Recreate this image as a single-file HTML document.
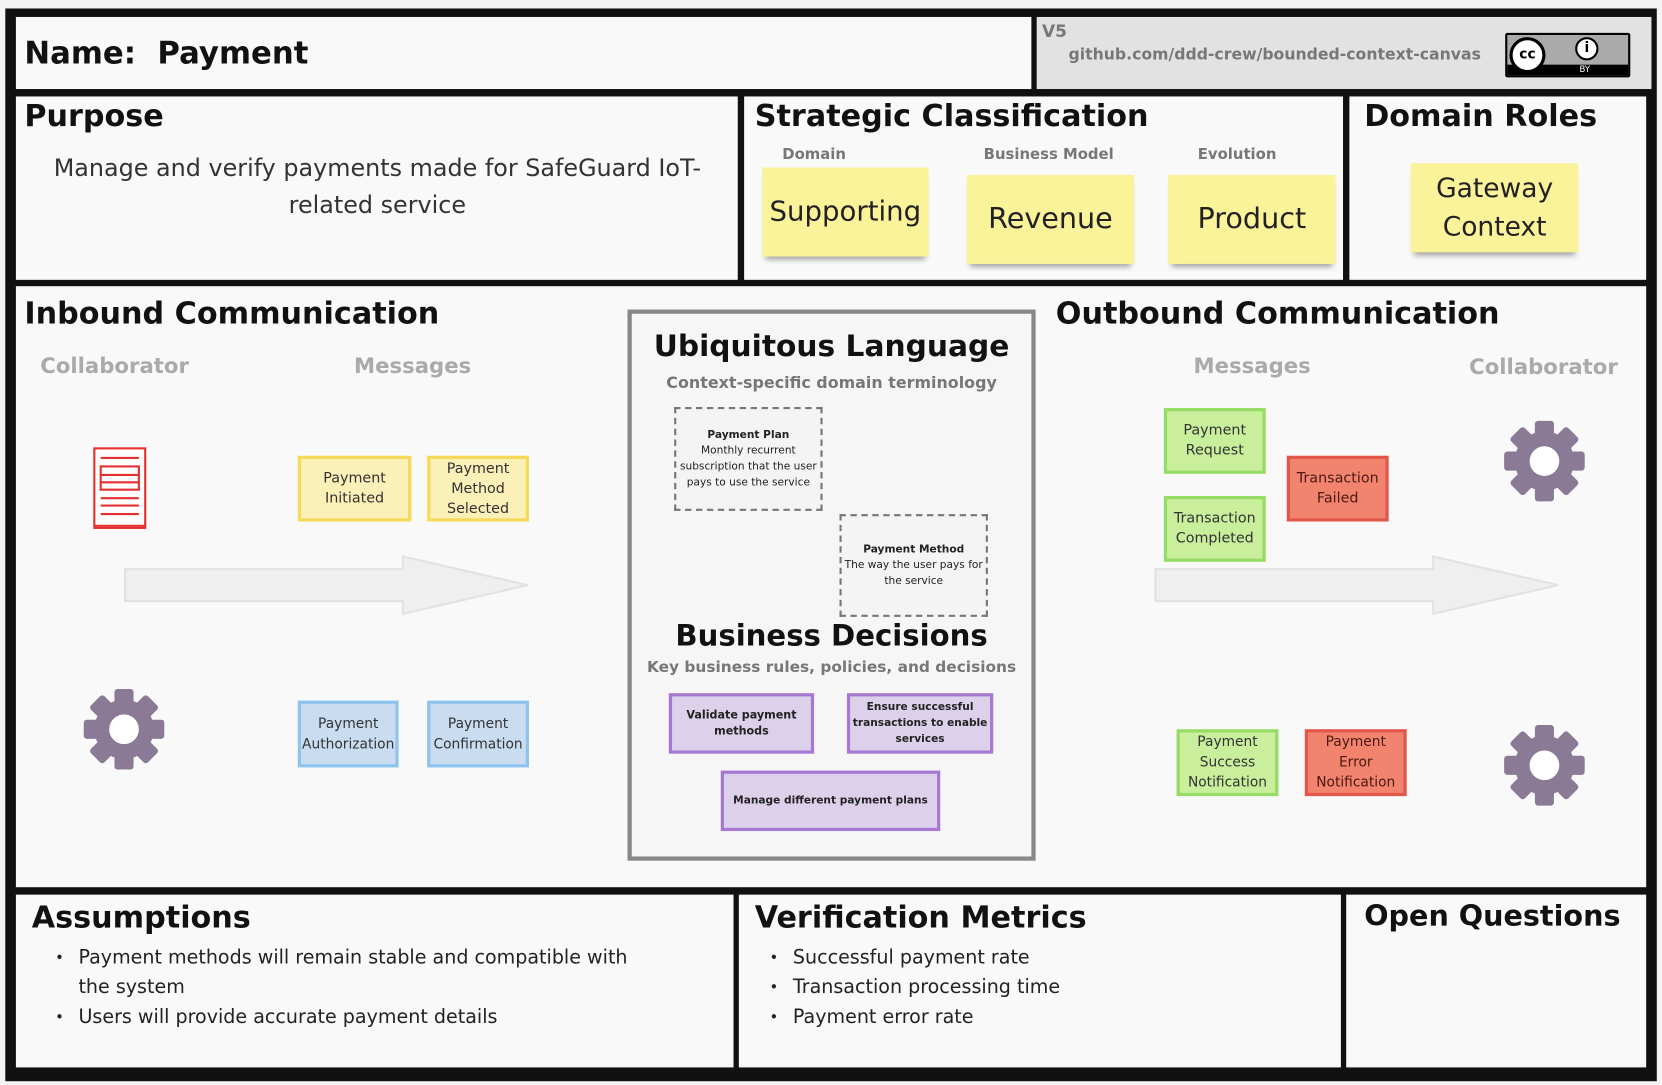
<!DOCTYPE html>
<html><head><meta charset="utf-8"><style>
*{margin:0;padding:0;box-sizing:border-box}
html,body{width:1662px;height:1085px;overflow:hidden;background:#f4f4f4;font-family:"DejaVu Sans","Liberation Sans",sans-serif}
#w{position:absolute;left:0;top:0;width:1568px;height:1024px;transform:scale(1.06);transform-origin:0 0}
.a{position:absolute}
.c{position:absolute;background:#f9f9f9}
.h{position:absolute;font-weight:bold;font-size:28.5px;color:#111;white-space:nowrap}
.sub{position:absolute;font-size:20px;color:#aaa;font-weight:bold}
.st{position:absolute;background:#fbf39a;box-shadow:0 6px 5px -3px rgba(0,0,0,.35);display:flex;align-items:center;justify-content:center;text-align:center;font-size:27px;color:#222;line-height:36px}
.m{position:absolute;display:flex;align-items:center;justify-content:center;text-align:center;font-size:13.5px;line-height:19px;color:#333;border:3px solid}
.y{background:#fbf0b8;border-color:#f7d95a}
.b{background:#c9dcf0;border-color:#8ec3ef}
.g{background:#c9ef9c;border-color:#96db63}
.r{background:#f2846f;border-color:#e2574a;color:#4a1a10}
.p{background:#dcd0ea;border-color:#a678d2;font-weight:bold;font-size:10.5px;line-height:15px;color:#222}
.d{position:absolute;border:2px dashed #777;background:#f4f4f4;font-size:10px;line-height:15px;text-align:center;color:#222;display:flex;flex-direction:column;justify-content:center}
ul{list-style:none}
li{position:relative;padding-left:42px;font-size:18px;line-height:28px;color:#222}
li:before{content:"•";position:absolute;left:20px;font-size:14px}
</style></head><body><div id="w">
<div class="a" style="left:5px;top:8px;width:1558px;height:1012px;background:#111"></div>
<div class="c" style="left:15px;top:16px;width:958px;height:68px"></div>
<div class="c" style="left:978px;top:16px;width:580px;height:68px;background:#e2e2e2"></div>
<div class="c" style="left:15px;top:91px;width:681px;height:173px"></div>
<div class="c" style="left:702px;top:91px;width:565px;height:173px"></div>
<div class="c" style="left:1273px;top:91px;width:280px;height:173px"></div>
<div class="c" style="left:15px;top:270px;width:1538px;height:567px"></div>
<div class="c" style="left:15px;top:844px;width:677px;height:163px"></div>
<div class="c" style="left:697px;top:844px;width:568px;height:163px"></div>
<div class="c" style="left:1270px;top:844px;width:283px;height:163px"></div>

<div class="h" style="left:23px;top:33px;font-size:29px">Name:&nbsp; Payment</div>
<div class="a" style="left:983px;top:20px;font-size:16px;color:#777;font-weight:bold">V5</div>
<div class="a" style="left:1008px;top:43px;font-size:14.8px;color:#777;font-weight:bold">github.com/ddd-crew/bounded-context-canvas</div>
<div class="a" style="left:1420px;top:31px;width:118px;height:42px;background:#aaa;border:2px solid #000;border-radius:2px">
<div class="a" style="left:0;top:28px;width:114px;height:10px;background:#000;color:#fff;font-size:8px;text-align:right;padding-right:36px;line-height:10px">BY</div>
<div class="a" style="left:2px;top:2px;width:34px;height:34px;border-radius:50%;background:#fff;border:3px solid #000;font-size:13px;font-weight:bold;text-align:center;line-height:28px">cc</div>
<div class="a" style="left:64px;top:2px;width:22px;height:22px;border-radius:50%;background:#fff;border:2px solid #000;font-size:13px;font-weight:bold;text-align:center;line-height:18px">i</div>
</div>

<div class="h" style="left:23px;top:93px">Purpose</div>
<div class="a" style="left:30px;top:142px;width:652px;text-align:center;font-size:22.5px;line-height:35px;color:#333">Manage and verify payments made for SafeGuard IoT-related service</div>

<div class="h" style="left:712px;top:93px">Strategic Classification</div>
<div class="a" style="left:738px;top:138px;font-size:14px;color:#777;font-weight:bold">Domain</div>
<div class="a" style="left:928px;top:138px;font-size:14px;color:#777;font-weight:bold">Business Model</div>
<div class="a" style="left:1130px;top:138px;font-size:14px;color:#777;font-weight:bold">Evolution</div>
<div class="st" style="left:719px;top:158px;width:157px;height:84px;font-size:26px">Supporting</div>
<div class="st" style="left:912px;top:165px;width:158px;height:84px">Revenue</div>
<div class="st" style="left:1102px;top:165px;width:158px;height:84px">Product</div>

<div class="h" style="left:1287px;top:93px">Domain Roles</div>
<div class="st" style="left:1331px;top:154px;width:158px;height:84px;font-size:25px">Gateway<br>Context</div>

<div class="h" style="left:23px;top:279px">Inbound Communication</div>
<div class="sub" style="left:38px;top:333px">Collaborator</div>
<div class="sub" style="left:334px;top:333px">Messages</div>
<div class="h" style="left:996px;top:279px">Outbound Communication</div>
<div class="sub" style="left:1126px;top:333px">Messages</div>
<div class="sub" style="left:1386px;top:334px">Collaborator</div>

<svg class="a" style="left:0;top:0" width="1568" height="1024">
<polygon points="118,537 380,537 380,525 498,552 380,579 380,567 118,567" fill="#efefef" stroke="#e2e2e2" stroke-width="2"/>
<polygon points="1090,537 1352,537 1352,525 1470,552 1352,579 1352,567 1090,567" fill="#efefef" stroke="#e2e2e2" stroke-width="2"/>
<g fill="none" stroke="#e53030" stroke-width="2"><rect x="89" y="423" width="48" height="75" fill="#fff"/><path d="M95 432h36M95 440h36v22h-36zM95 448h36M95 455h36M95 470h36M95 477h36M95 485h36M89 496h48"/></g>
<defs><g id="gear"><circle r="28" fill="#8a7a96"/><g fill="#8a7a96"><rect x="-9" y="-38" width="18" height="76" rx="3"/><rect x="-9" y="-38" width="18" height="76" rx="3" transform="rotate(45)"/><rect x="-9" y="-38" width="18" height="76" rx="3" transform="rotate(90)"/><rect x="-9" y="-38" width="18" height="76" rx="3" transform="rotate(135)"/></g><circle r="14" fill="#fff"/></g></defs>
<use href="#gear" x="117" y="688"/><use href="#gear" x="1457" y="435"/><use href="#gear" x="1457" y="722"/>
</svg>

<div class="m y" style="left:281px;top:430px;width:107px;height:62px">Payment<br>Initiated</div>
<div class="m y" style="left:403px;top:430px;width:96px;height:62px">Payment<br>Method<br>Selected</div>
<div class="m b" style="left:281px;top:661px;width:95px;height:63px;font-size:13px">Payment<br>Authorization</div>
<div class="m b" style="left:403px;top:661px;width:96px;height:63px;font-size:13px">Payment<br>Confirmation</div>

<div class="m g" style="left:1098px;top:385px;width:96px;height:62px">Payment<br>Request</div>
<div class="m g" style="left:1098px;top:468px;width:96px;height:62px">Transaction<br>Completed</div>
<div class="m r" style="left:1214px;top:430px;width:96px;height:62px">Transaction<br>Failed</div>
<div class="m g" style="left:1110px;top:688px;width:96px;height:63px;font-size:13px">Payment<br>Success<br>Notification</div>
<div class="m r" style="left:1231px;top:688px;width:96px;height:63px;font-size:13px">Payment<br>Error<br>Notification</div>

<div class="a" style="left:592px;top:292px;width:385px;height:520px;border:4px solid #888;background:#f6f6f6"></div>
<div class="h" style="left:592px;top:310px;width:385px;text-align:center;font-size:28px">Ubiquitous Language</div>
<div class="a" style="left:592px;top:352px;width:385px;text-align:center;font-size:15px;color:#777;font-weight:bold">Context-specific domain terminology</div>
<div class="d" style="left:636px;top:384px;width:140px;height:98px"><b>Payment Plan</b>Monthly recurrent subscription that the user pays to use the service</div>
<div class="d" style="left:792px;top:485px;width:140px;height:97px"><b>Payment Method</b>The way the user pays for the service</div>
<div class="h" style="left:592px;top:584px;width:385px;text-align:center;font-size:27.5px">Business Decisions</div>
<div class="a" style="left:592px;top:622px;width:385px;text-align:center;font-size:14.5px;color:#777;font-weight:bold">Key business rules, policies, and decisions</div>
<div class="m p" style="left:631px;top:654px;width:137px;height:57px">Validate payment<br>methods</div>
<div class="m p" style="left:799px;top:654px;width:138px;height:57px;font-size:10px">Ensure successful transactions to enable services</div>
<div class="m p" style="left:680px;top:727px;width:207px;height:57px;white-space:nowrap;font-size:10px">Manage different payment plans</div>

<div class="h" style="left:30px;top:849px">Assumptions</div>
<ul class="a" style="left:32px;top:890px;width:580px"><li>Payment methods will remain stable and compatible with the system</li><li>Users will provide accurate payment details</li></ul>
<div class="h" style="left:712px;top:849px">Verification Metrics</div>
<ul class="a" style="left:706px;top:890px;width:540px"><li>Successful payment rate</li><li>Transaction processing time</li><li>Payment error rate</li></ul>
<div class="h" style="left:1287px;top:849px;font-size:27px">Open Questions</div>
</div></body></html>
